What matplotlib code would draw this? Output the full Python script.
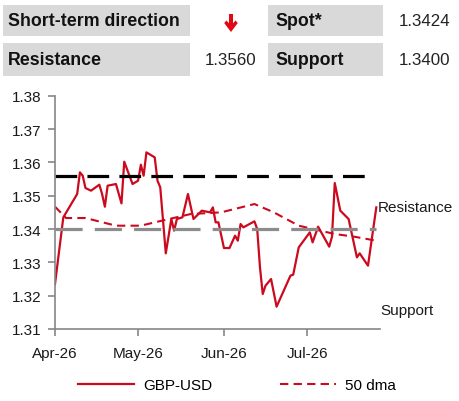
import datetime as dt
import matplotlib
matplotlib.use("Agg")
import matplotlib.pyplot as plt
import matplotlib.dates as mdates
import matplotlib.transforms as mtransforms
from matplotlib.patches import Rectangle, Polygon

plt.rcParams['font.family'] = ['Liberation Sans', 'DejaVu Sans']

# GBP-USD daily path
spot_dates = ["2026-04-01", "2026-04-04", "2026-04-09", "2026-04-10", "2026-04-11",
              "2026-04-12", "2026-04-14", "2026-04-17", "2026-04-18", "2026-04-19",
              "2026-04-20", "2026-04-23", "2026-04-25", "2026-04-26", "2026-04-29",
              "2026-05-01", "2026-05-02", "2026-05-03", "2026-05-04", "2026-05-07",
              "2026-05-08", "2026-05-09", "2026-05-11", "2026-05-13", "2026-05-14",
              "2026-05-15", "2026-05-17", "2026-05-19", "2026-05-21", "2026-05-24",
              "2026-05-27", "2026-05-28", "2026-05-29", "2026-05-30", "2026-06-01",
              "2026-06-03", "2026-06-05", "2026-06-06", "2026-06-07", "2026-06-08",
              "2026-06-12", "2026-06-13", "2026-06-14", "2026-06-15", "2026-06-16",
              "2026-06-18", "2026-06-20", "2026-06-25", "2026-06-26", "2026-06-28",
              "2026-07-02", "2026-07-03", "2026-07-05", "2026-07-09", "2026-07-10",
              "2026-07-11", "2026-07-13", "2026-07-16", "2026-07-19", "2026-07-20",
              "2026-07-23", "2026-07-26"]
spot_values = [1.3235, 1.3435, 1.3505, 1.3570, 1.3560,
               1.3523, 1.3515, 1.3533, 1.3505, 1.3467,
               1.3530, 1.3535, 1.3477, 1.3602, 1.3535,
               1.3545, 1.3593, 1.3560, 1.3630, 1.3615,
               1.3545, 1.3525, 1.3327, 1.3430, 1.3395,
               1.3430, 1.3435, 1.3505, 1.3430, 1.3455,
               1.3450, 1.3465, 1.3420, 1.3420, 1.3343,
               1.3343, 1.3380, 1.3365, 1.3415, 1.3405,
               1.3423, 1.3400, 1.3285, 1.3205, 1.3230,
               1.3250, 1.3167, 1.3260, 1.3263, 1.3345,
               1.3390, 1.3360, 1.3407, 1.3347, 1.3377,
               1.3538, 1.3455, 1.3430, 1.3315, 1.3327,
               1.3290, 1.3465]

# 50-day moving average
dma_dates = ["2026-04-01", "2026-04-05", "2026-04-12", "2026-04-23", "2026-05-02",
             "2026-05-07", "2026-05-20", "2026-05-31", "2026-06-12", "2026-06-19",
             "2026-06-28", "2026-07-11", "2026-07-18", "2026-07-26"]
dma_values = [1.3467, 1.3433, 1.3433, 1.3410, 1.3410,
              1.3420, 1.3445, 1.3450, 1.3475, 1.3450,
              1.3410, 1.3385, 1.3377, 1.3365]

resistance = 1.3560
support = 1.3400
spot_now = 1.3424
y_ticks = [1.31, 1.32, 1.33, 1.34, 1.35, 1.36, 1.37, 1.38]
month_ticks = ["2026-04-01", "2026-05-01", "2026-06-01", "2026-07-01"]

red = '#cc0a1e'
grey_box = '#d9d9d9'

def to_dates(lst):
    return [dt.datetime.strptime(s, "%Y-%m-%d") for s in lst]

fig = plt.figure(figsize=(4.6, 4.02), dpi=100)
ax = fig.add_axes([55 / 460, 72 / 402, 325 / 460, 233.3 / 402])

ax.plot(to_dates(spot_dates), spot_values, color=red, lw=1.6, label='GBP-USD')
ax.plot(to_dates(dma_dates), dma_values, color=red, lw=1.5, dashes=(4, 2.5),
        label='50 dma')
ax.plot([dt.datetime(2026, 4, 1), dt.datetime(2026, 7, 24)], [resistance] * 2,
        color='black', lw=2.3, dashes=(6.8, 3.2))
ax.plot([dt.datetime(2026, 4, 1), dt.datetime(2026, 7, 26)], [support] * 2,
        color='#8c8c8c', lw=2.3, dashes=(8.5, 3.8))

ax.set_xlim(dt.datetime(2026, 4, 1), dt.datetime(2026, 7, 27, 8))
ax.set_ylim(1.31, 1.38)
ax.set_yticks(y_ticks)
ax.yaxis.set_major_formatter(plt.FormatStrFormatter('%.2f'))
ax.set_xticks(to_dates(month_ticks))
ax.xaxis.set_major_formatter(mdates.DateFormatter('%b-%y'))

for side in ['top', 'right']:
    ax.spines[side].set_visible(False)
for side in ['left', 'bottom']:
    ax.spines[side].set_color('#868686')
    ax.spines[side].set_linewidth(1.2)
ax.tick_params(direction='out', length=5, width=1.2, color='#868686',
               labelsize=11, labelcolor='#1a1a1a')
ax.tick_params(axis='y', pad=5)
ax.tick_params(axis='x', pad=7)

trans = mtransforms.blended_transform_factory(ax.transAxes, ax.transData)
ax.text(0.994, 1.3466, 'Resistance', transform=trans, fontsize=11,
        va='center', ha='left', color='#1a1a1a', clip_on=False)
ax.text(1.0, 1.3157, 'Support', transform=trans, fontsize=11,
        va='center', ha='left', color='#1a1a1a', clip_on=False)

fig.legend(loc='center', bbox_to_anchor=(0.515, 0.04), ncol=2, frameon=False,
           fontsize=11, handlelength=3.7, handletextpad=0.6, columnspacing=4.4)

# header table
def box(x0, x1, y0, y1):
    fig.patches.append(Rectangle((x0 / 460, 1 - y1 / 402), (x1 - x0) / 460,
                                 (y1 - y0) / 402, transform=fig.transFigure,
                                 facecolor=grey_box, edgecolor='none'))

rows = [(6, 37), (44, 77)]
for y0, y1 in rows:
    box(3, 190, y0, y1)
    box(268, 383, y0, y1)

labels_left = ['Short-term direction', 'Resistance']
labels_right = ['Spot*', 'Support']
for (y0, y1), lab_l, lab_r in zip(rows, labels_left, labels_right):
    yc = 1 - (y0 + y1) / 2 / 402
    fig.text(8 / 460, yc, lab_l, fontsize=12.8, fontweight='bold', va='center',
             color='#111111')
    fig.text(275 / 460, yc, lab_r, fontsize=12.8, fontweight='bold', va='center',
             color='#111111')

fig.text(450 / 460, 1 - 21.5 / 402, '%.4f' % spot_now, fontsize=12.2,
         ha='right', va='center', color='#222222')
fig.text(256 / 460, 1 - 60.5 / 402, '%.4f' % resistance, fontsize=12.2,
         ha='right', va='center', color='#222222')
fig.text(450 / 460, 1 - 60.5 / 402, '%.4f' % support, fontsize=12.2,
         ha='right', va='center', color='#222222')

# red down arrow (direction marker), outline in pixels from the top-left
arrow_px = [(229, 15), (233, 15), (233, 24.3), (235.5, 21.5), (237.8, 24),
            (231, 33), (224.2, 24), (226.5, 21.5), (229, 24.3)]
fig.patches.append(Polygon([(x / 460, 1 - y / 402) for x, y in arrow_px],
                           closed=True, transform=fig.transFigure,
                           facecolor='#e30613', edgecolor='none'))

fig.savefig('out.png', dpi=100)
